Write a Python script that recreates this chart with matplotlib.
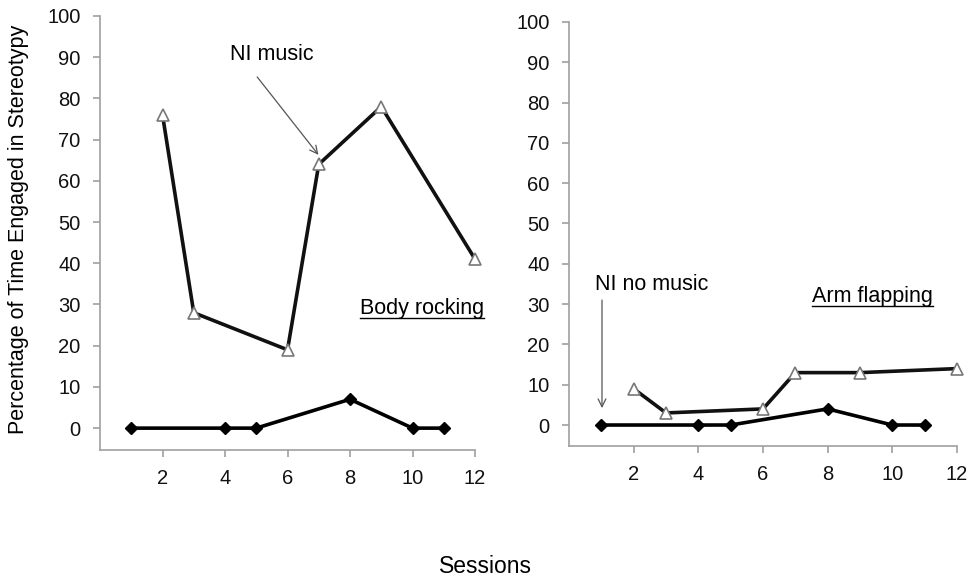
import matplotlib
matplotlib.use("Agg")
import matplotlib.pyplot as plt
from matplotlib.lines import Line2D

plt.rcParams["font.family"] = ["Liberation Sans", "DejaVu Sans"]

# Body rocking panel
rock_tri_x = [2, 3, 6, 7, 9, 12]
rock_tri_y = [76, 28, 19, 64, 78, 41]
rock_dia_x = [1, 4, 5, 8, 10, 11]
rock_dia_y = [0, 0, 0, 7, 0, 0]

# Arm flapping panel
flap_tri_x = [2, 3, 6, 7, 9, 12]
flap_tri_y = [9, 3, 4, 13, 13, 14]
flap_dia_x = [1, 4, 5, 8, 10, 11]
flap_dia_y = [0, 0, 0, 4, 0, 0]

x_ticks = [2, 4, 6, 8, 10, 12]
y_ticks = list(range(0, 101, 10))

fig = plt.figure(figsize=(9.7, 5.78), dpi=100)
ax1 = fig.add_axes([0.1031, 0.2215, 0.3866, 0.7509])
ax2 = fig.add_axes([0.5866, 0.2284, 0.4000, 0.7336])

axis_grey = "#a0a0a0"


def style_panel(ax, ybottom):
    ax.set_xlim(0, 12)
    ax.set_ylim(ybottom, 100)
    ax.set_xticks(x_ticks)
    ax.set_yticks(y_ticks)
    for side in ["top", "right"]:
        ax.spines[side].set_visible(False)
    for side in ["left", "bottom"]:
        ax.spines[side].set_color(axis_grey)
        ax.spines[side].set_linewidth(1.2)
    ax.tick_params(axis="both", colors=axis_grey, labelcolor="#111111",
                   labelsize=14.5, length=5, width=1.2)
    ax.tick_params(axis="x", pad=9)
    ax.tick_params(axis="y", pad=9)


def draw_series(ax, tx, ty, dx, dy):
    ax.plot(dx, dy, color="black", lw=2.6, marker="D", markersize=6,
            markerfacecolor="black", markeredgecolor="black", clip_on=False, zorder=3)
    ax.plot(tx, ty, color="#111111", lw=2.6, zorder=3)
    ax.plot(tx, ty, ls="none", marker="^", markersize=8.5,
            markerfacecolor="white", markeredgecolor="#777777", markeredgewidth=1.2,
            clip_on=False, zorder=4)


style_panel(ax1, -5.3)
style_panel(ax2, -5.2)
draw_series(ax1, rock_tri_x, rock_tri_y, rock_dia_x, rock_dia_y)
draw_series(ax2, flap_tri_x, flap_tri_y, flap_dia_x, flap_dia_y)

arrow_style = dict(arrowstyle="->", color="#555555", lw=0.9, mutation_scale=14,
                   shrinkA=0, shrinkB=0)

ax1.annotate("NI music", xy=(6.99, 66.3), xytext=(5.5, 88.0),
             fontsize=15.5, ha="center", va="bottom")
ax1.annotate("", xy=(6.99, 66.3), xytext=(5.03, 85.2), arrowprops=arrow_style)
ax2.annotate("NI no music", xy=(1.02, 4.2), xytext=(0.8, 32.3),
             fontsize=15.5, ha="left", va="bottom")
ax2.annotate("", xy=(1.02, 4.2), xytext=(1.02, 31.0), arrowprops=arrow_style)

underlined = [
    ax1.text(8.33, 27.8, "Body rocking", fontsize=15.5, ha="left", va="baseline"),
    ax2.text(7.53, 30.6, "Arm flapping", fontsize=15.5, ha="left", va="baseline"),
]

fig.text(0.019, 0.604, "Percentage of Time Engaged in Stereotypy", rotation=90,
         fontsize=15.5, ha="center", va="center")
fig.text(0.5, 0.02, "Sessions", fontsize=16.5, ha="center", va="center")

# underline the panel names
fig.canvas.draw()
renderer = fig.canvas.get_renderer()
inv = fig.transFigure.inverted()
for t in underlined:
    bb = t.get_window_extent(renderer)
    (x0, y0), (x1, _) = inv.transform([(bb.x0, bb.y0), (bb.x1, bb.y1)])
    fig.add_artist(Line2D([x0, x1], [y0 + 0.001, y0 + 0.001], color="black", lw=1.0,
                          transform=fig.transFigure))

fig.savefig("out.png", dpi=100)
